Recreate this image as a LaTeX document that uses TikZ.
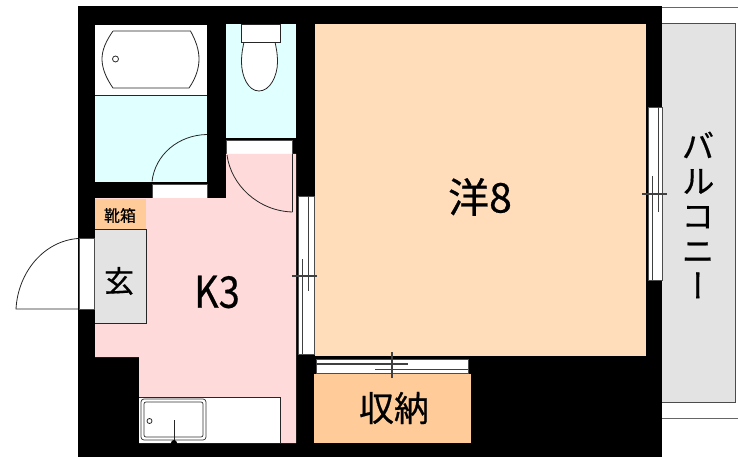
\documentclass[tikz,border=0pt]{standalone}
\usepackage{fontspec}
\newfontfamily\cjk{Noto Sans CJK JP}[FakeBold=0.5]
\newfontfamily\cjkv{Noto Sans CJK JP}[RawFeature={+vert}, FakeBold=0.5]
\definecolor{pinkfloor}{HTML}{FFDADA}
\definecolor{cyanfloor}{HTML}{E0FFFF}
\definecolor{peachfloor}{HTML}{FFDDBB}
\definecolor{orangefloor}{HTML}{FFCC99}
\definecolor{grayfloor}{HTML}{E3E3E3}
\tikzset{
  thin line/.style={draw=black!85, line width=0.8pt},
  opening/.style={fill=white, draw=black!70, line width=0.6pt},
  sash/.style={black!75, line width=1.1pt},
  roomlabel/.style={inner sep=0pt, text=black}
}

\begin{document}
\begin{tikzpicture}[x=1pt, y=-1pt]
    \useasboundingbox (0,0) rectangle (738,457);
    % balcony
    \draw[black!60, line width=0.8pt] (662,7) -- (738,7);
    \draw[black!60, line width=0.8pt] (662,418) -- (738,418);
    \fill[grayfloor] (662,23) rectangle (735,402);
    \draw[black!70, line width=0.9pt] (662,23) -- (735,23) -- (735,402) -- (662,402);
    % walls
    \fill[black] (78,6) rectangle (662,457);
    % bath
    \fill[white] (95,25) rectangle (207,95);
    \fill[cyanfloor] (95,95) rectangle (207,181.5);
    \draw[thin line] (95,95) -- (207,95);
    \draw[thin line] (113,31) -- (190.5,31)
      .. controls (196,41) and (199,50) .. (199,59)
      .. controls (199,68) and (196,78) .. (189,88) -- (113,88)
      .. controls (106,78) and (102,68) .. (102,59)
      .. controls (102,50) and (106,41) .. (113,31);
    \draw[thin line] (115.5,59) circle (3);
    \draw[thin line] (207,134.5) .. controls (178,135) and (155,155) .. (152,181.5);
    \fill[opening] (152,184) rectangle (207,198);
    % toilet
    \fill[cyanfloor] (226,24) rectangle (295.5,138);
    \draw[thin line, fill=white] (259,91) .. controls (248,91) and (241.5,76) .. (241.5,62)
      .. controls (241.5,53) and (243,47) .. (244,42) -- (275,42)
      .. controls (276,47) and (277.5,53) .. (277.5,62)
      .. controls (277.5,76) and (270,91) .. (259,91);
    \draw[thin line, fill=white] (241,24) rectangle (280,42);
    \fill[opening] (226,140) rectangle (292,154);
    % kitchen
    \fill[pinkfloor] (226,154) -- (296,154) -- (296,443) -- (139,443) -- (139,357)
      -- (95,357) -- (95,198) -- (226,198) -- cycle;
    \draw[thin line] (292.5,154) -- (292.5,212);
    \draw[thin line] (227,155) .. controls (231,185) and (258,211) .. (292.5,212);
    % entrance
    \fill[orangefloor] (95,199) rectangle (146,229);
    \fill[grayfloor] (95,229) rectangle (146,323);
    \draw[thin line] (95,229) -- (146,229);
    \draw[thin line] (95,323) -- (146,323) -- (146,229);
    \fill[opening] (79,238) rectangle (94,309);
    \draw[thin line] (78,238.5) .. controls (44,241) and (18,272) .. (16,309) -- (78,309);
    % kitchen counter
    \fill[white] (139,397) rectangle (280,443);
    \draw[thin line] (139,397) -- (280,397) -- (280,443);
    \draw[black!80, line width=0.7pt, rounded corners=3] (141,399) rectangle (206,440);
    \draw[black!80, line width=0.7pt, rounded corners=2] (144,402) rectangle (203,437);
    \draw[thin line] (149.5,421) circle (2.5);
    \draw[thin line] (174,420) -- (174,443);
    \fill[black] (174,443) circle (3);
    % western room and storage
    \fill[peachfloor] (315,24) rectangle (645.5,356);
    \fill[orangefloor] (314,374) rectangle (471,443);
    % windows
    \fill[opening] (298,196) rectangle (314,354);
    \draw[sash] (308.5,196) -- (308.5,291);
    \draw[sash] (302.5,259) -- (302.5,354);
    \draw[sash] (292,276) -- (317,276);
    \fill[opening] (316,359) rectangle (468,373);
    \draw[sash] (316,364) -- (408,364);
    \draw[sash] (375,369.5) -- (468,369.5);
    \draw[sash] (392,352) -- (392,378);
    \fill[opening] (648,107) rectangle (662,280);
    \draw[sash] (658.5,107) -- (658.5,212);
    \draw[sash] (652.5,176) -- (652.5,280);
    \draw[sash] (642,194) -- (667,194);
    % labels
    \node[roomlabel] (western) at (480,197) {\fontsize{41}{41}\cjk 洋8};
    \node[roomlabel] (kitchen) at (217,292) {\scalebox{1}[1.15]{\fontsize{38}{38}\cjk K3}};
    \node[roomlabel] (storage) at (394,408) {\fontsize{35}{35}\cjk 収納};
    \node[roomlabel] (entry) at (119,281) {\fontsize{30}{30}\cjk 玄};
    \node[roomlabel] (shoes) at (120,215.5) {\fontsize{16}{16}\cjk 靴箱};
    \node[roomlabel, align=center, font=\fontsize{33}{35}\cjkv] (balcony) at (698,215)
      {バ\\ル\\コ\\ニ\\ー};
\end{tikzpicture}
\end{document}
